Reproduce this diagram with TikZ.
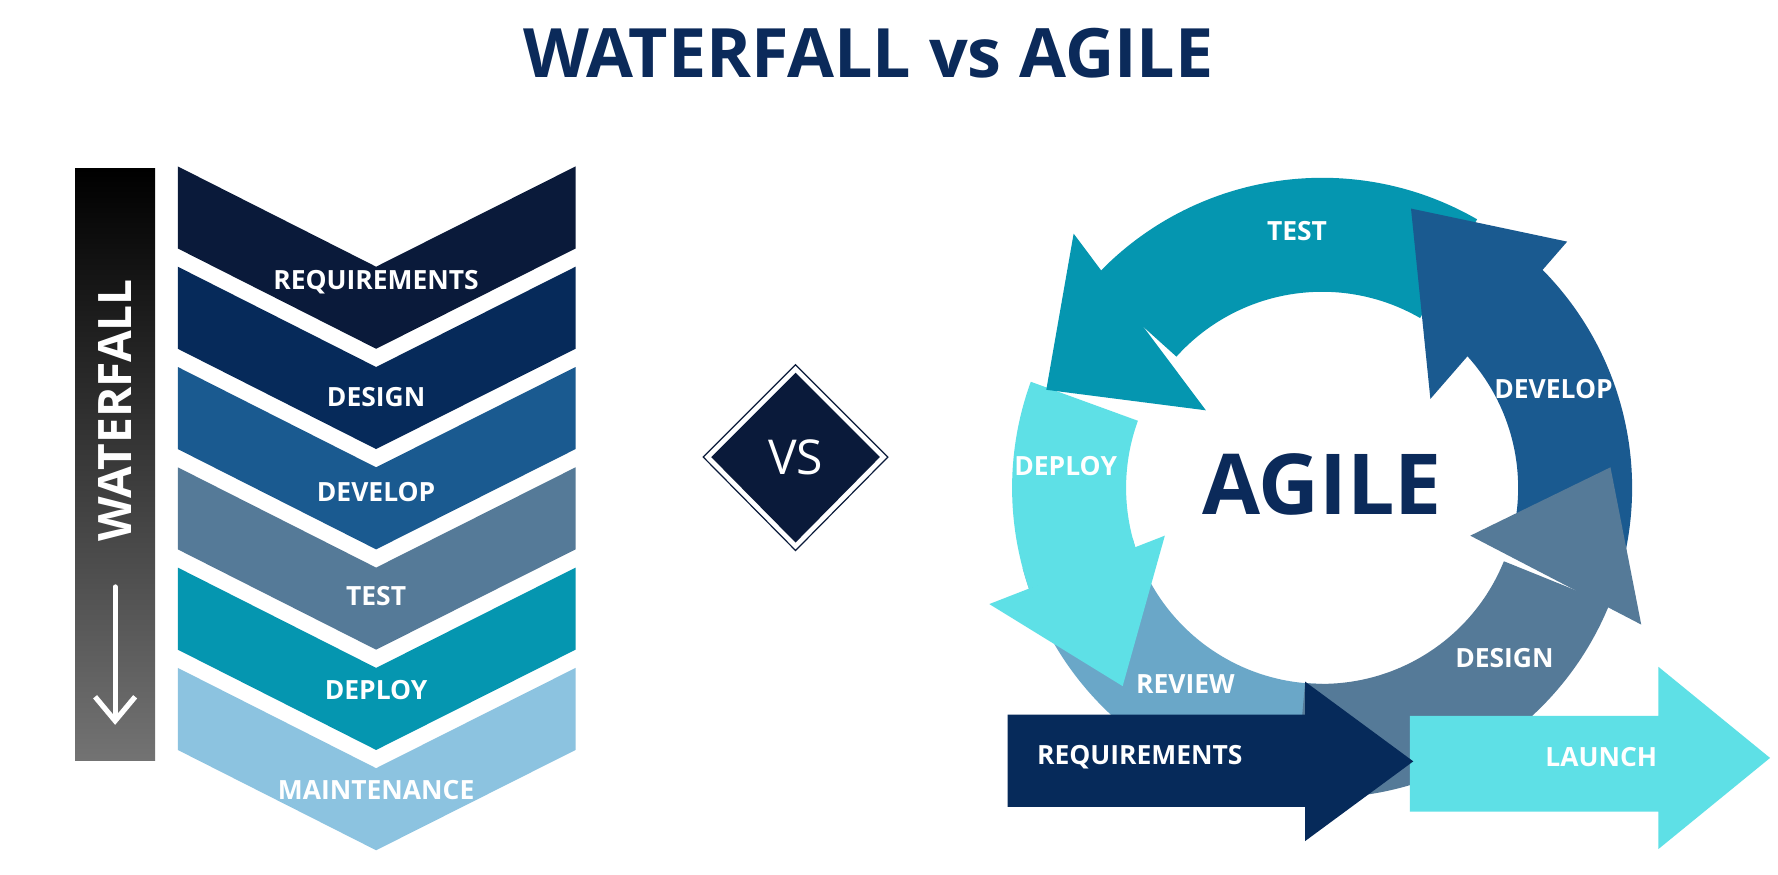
\documentclass[tikz,border=0pt]{standalone}
\usepackage{fontspec}
\setmainfont{Open Sans}
\usetikzlibrary{calc,arrows.meta}
\definecolor{navy}{HTML}{0B2A5A}
\definecolor{cA}{HTML}{0A1A3A}
\definecolor{cB}{HTML}{062A5A}
\definecolor{cC}{HTML}{1A5A90}
\definecolor{cD}{HTML}{557A98}
\definecolor{cE}{HTML}{0596B0}
\definecolor{cF}{HTML}{8CC3E0}
\definecolor{cyanA}{HTML}{5EE0E6}
\definecolor{revc}{HTML}{6AA7C8}
\tikzset{lbl/.style={text=white,font=\bfseries\fontsize{6.6}{7}\selectfont,inner sep=0pt}}
\newcommand{\chev}[2]{\fill[#2] (156,#1) -- (330,#1+88) -- (505,#1) -- (505,#1+72) -- (330,#1+160) -- (156,#1+72) -- cycle;}
\newcommand{\ring}[3]{\fill[#3] ($(C)+(#1:272)$) arc[start angle=#1,end angle=#2,radius=272] -- ($(C)+(#2:172)$) arc[start angle=#2,end angle=#1,radius=172] -- cycle;}
\begin{document}
\begin{tikzpicture}[x=0.1mm,y=-0.1mm]
\useasboundingbox (0,0) rectangle (1560,767);
\fill[white] (0,0) rectangle (1560,767);
\node[text=navy,font=\bfseries\fontsize{17}{20}\selectfont] (title) at (762,47) {WATERFALL vs AGILE};
% waterfall bar
\shade[top color=black,bottom color=black!55] (66,148) rectangle (136,667);
\node[text=white,rotate=90,font=\bfseries\fontsize{11.5}{13}\selectfont,inner sep=0pt] (wf) at (101,360) {WATERFALL};
\coordinate (ws) at (101,515); \coordinate (we) at (101,636);
\draw[white,line width=1.3pt,line cap=round,-{Straight Barb[length=6pt,width=10pt,line width=1.3pt]}] (ws) -- (we);
% chevrons
\chev{146}{cA}\chev{234}{cB}\chev{322}{cC}\chev{410}{cD}\chev{498}{cE}\chev{586}{cF}
\node[lbl] (w1) at (330,248) {REQUIREMENTS};
\node[lbl] (w2) at (330,348) {DESIGN};
\node[lbl] (w3) at (330,432) {DEVELOP};
\node[lbl] (w4) at (330,523) {TEST};
\node[lbl] (w5) at (330,605) {DEPLOY};
\node[lbl] (w6) at (330,693) {MAINTENANCE};
% VS diamond
\draw[cA,line width=0.3pt] (698,320) -- (779,401) -- (698,483) -- (617,401) -- cycle;
\fill[cA] (698,327) -- (772,401) -- (698,476) -- (624,401) -- cycle;
\node[text=white,font=\fontsize{12}{14}\selectfont] (vs) at (698,401) {VS};
% agile
\coordinate (C) at (1160,428);
\ring{90}{165}{revc}
\ring{161}{200}{cyanA}
\fill[cyanA] (868,530) -- (1022,470) -- (985,602) -- cycle;
\ring{222}{300}{cE}
\fill[cE] (942,205) -- (1058,360) -- (918,342) -- cycle;
\ring{-45}{12}{cC}
\fill[cC] (1375,212) -- (1255,350) -- (1238,183) -- cycle;
\ring{22}{95}{cD}
\fill[cD] (1290,470) -- (1440,548) -- (1413,410) -- cycle;
\fill[cyanA] (1237,628) -- (1455,628) -- (1455,585) -- (1553,665) -- (1455,745) -- (1455,712) -- (1237,712) -- cycle;
\fill[cB] (884,627) -- (1145,627) -- (1145,598) -- (1240,668) -- (1145,738) -- (1145,708) -- (884,708) -- cycle;
\node[lbl] (a1) at (1138,203) {TEST};
\node[lbl] (a2) at (1363,341) {DEVELOP};
\node[lbl] (a3) at (935,409) {DEPLOY};
\node[lbl] (a4) at (1040,600) {REVIEW};
\node[lbl] (a5) at (1320,577) {DESIGN};
\node[lbl] (a6) at (1000,664) {REQUIREMENTS};
\node[lbl] (a7) at (1405,664) {LAUNCH};
\node[text=navy,font=\bfseries\fontsize{21}{24}\selectfont] (ag) at (1160,425) {AGILE};
\end{tikzpicture}
\end{document}
